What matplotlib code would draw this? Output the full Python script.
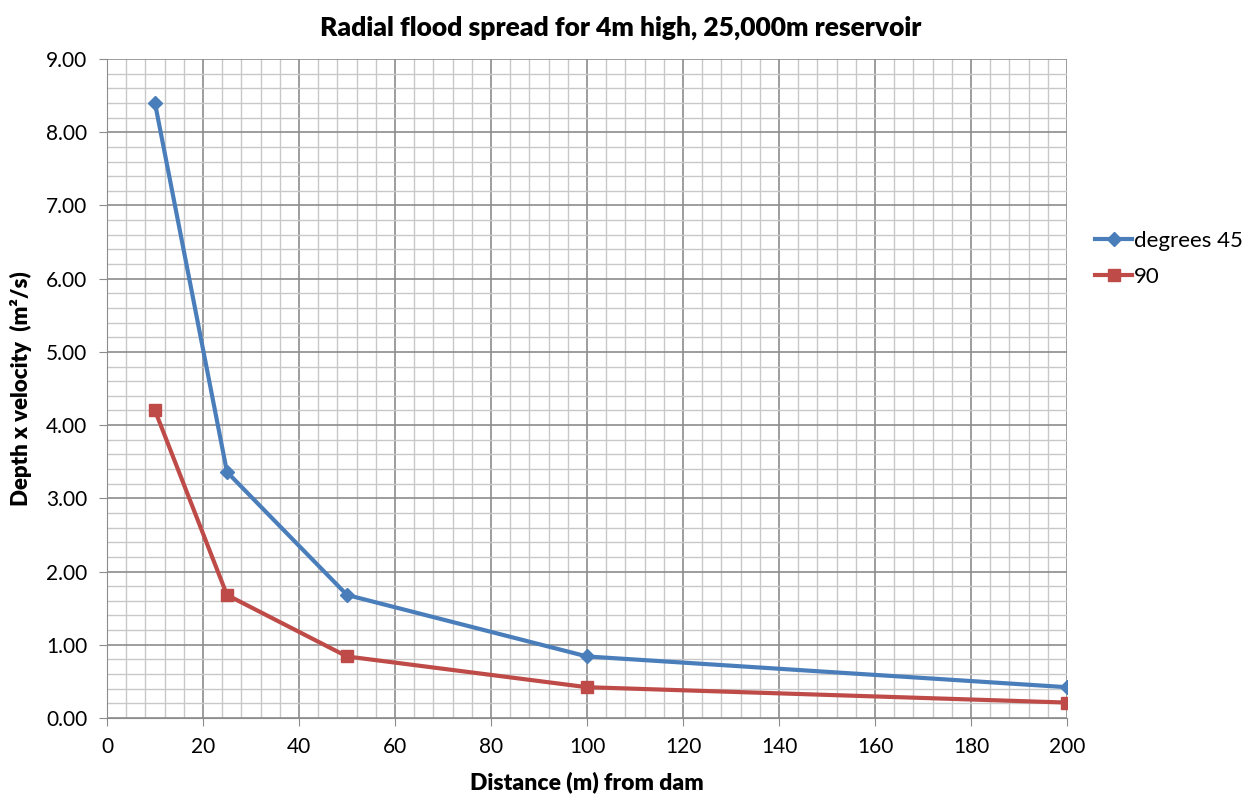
import matplotlib
matplotlib.use("Agg")
import matplotlib.pyplot as plt
from matplotlib.ticker import MultipleLocator, FormatStrFormatter

plt.rcParams['font.family'] = ['Lato', 'DejaVu Sans']

distance = [10, 25, 50, 100, 200]
deg45 = [8.40, 3.36, 1.68, 0.84, 0.42]
deg90 = [4.20, 1.68, 0.84, 0.42, 0.21]

fig = plt.figure(figsize=(12.51, 7.98), dpi=100)
ax = fig.add_axes([0.0855, 0.1003, 0.7675, 0.8257])

ax.plot(distance, deg45, color='#4A7EBB', lw=3, marker='D', ms=7, label='degrees 45', zorder=3)
ax.plot(distance, deg90, color='#BE4B48', lw=3, marker='s', ms=9, label='90', zorder=3)

ax.set_xlim(0, 200)
ax.set_ylim(0, 9)
ax.xaxis.set_major_locator(MultipleLocator(20))
ax.xaxis.set_minor_locator(MultipleLocator(4))
ax.yaxis.set_major_locator(MultipleLocator(1))
ax.yaxis.set_minor_locator(MultipleLocator(0.2))
ax.yaxis.set_major_formatter(FormatStrFormatter('%.2f'))

ax.grid(which='major', color='#8c8c8c', lw=1.2)
ax.grid(which='minor', color='#c8c8c8', lw=1.0)
ax.set_axisbelow(True)

for side in ['top', 'right']:
    ax.spines[side].set_visible(False)
for side in ['left', 'bottom']:
    ax.spines[side].set_color('#8c8c8c')
ax.tick_params(which='major', length=6, color='#8c8c8c', labelsize=15, pad=8)
ax.tick_params(which='minor', length=0)

# title centred over the whole figure rather than the axes
ax.set_title('Radial flood spread for 4m high, 25,000m reservoir',
             fontsize=19, fontweight='heavy', pad=17, x=0.535)
ax.set_xlabel('Distance (m) from dam', fontsize=16.5, fontweight='heavy', labelpad=10)
ax.set_ylabel('Depth x velocity  (m²/s)', fontsize=16, fontweight='heavy', labelpad=10)

ax.legend(loc='center left', bbox_to_anchor=(1.020, 0.697), frameon=False,
          fontsize=16, handlelength=1.66, handletextpad=0.1, labelspacing=0.72,
          borderaxespad=0)

fig.savefig('out.png', dpi=100)
